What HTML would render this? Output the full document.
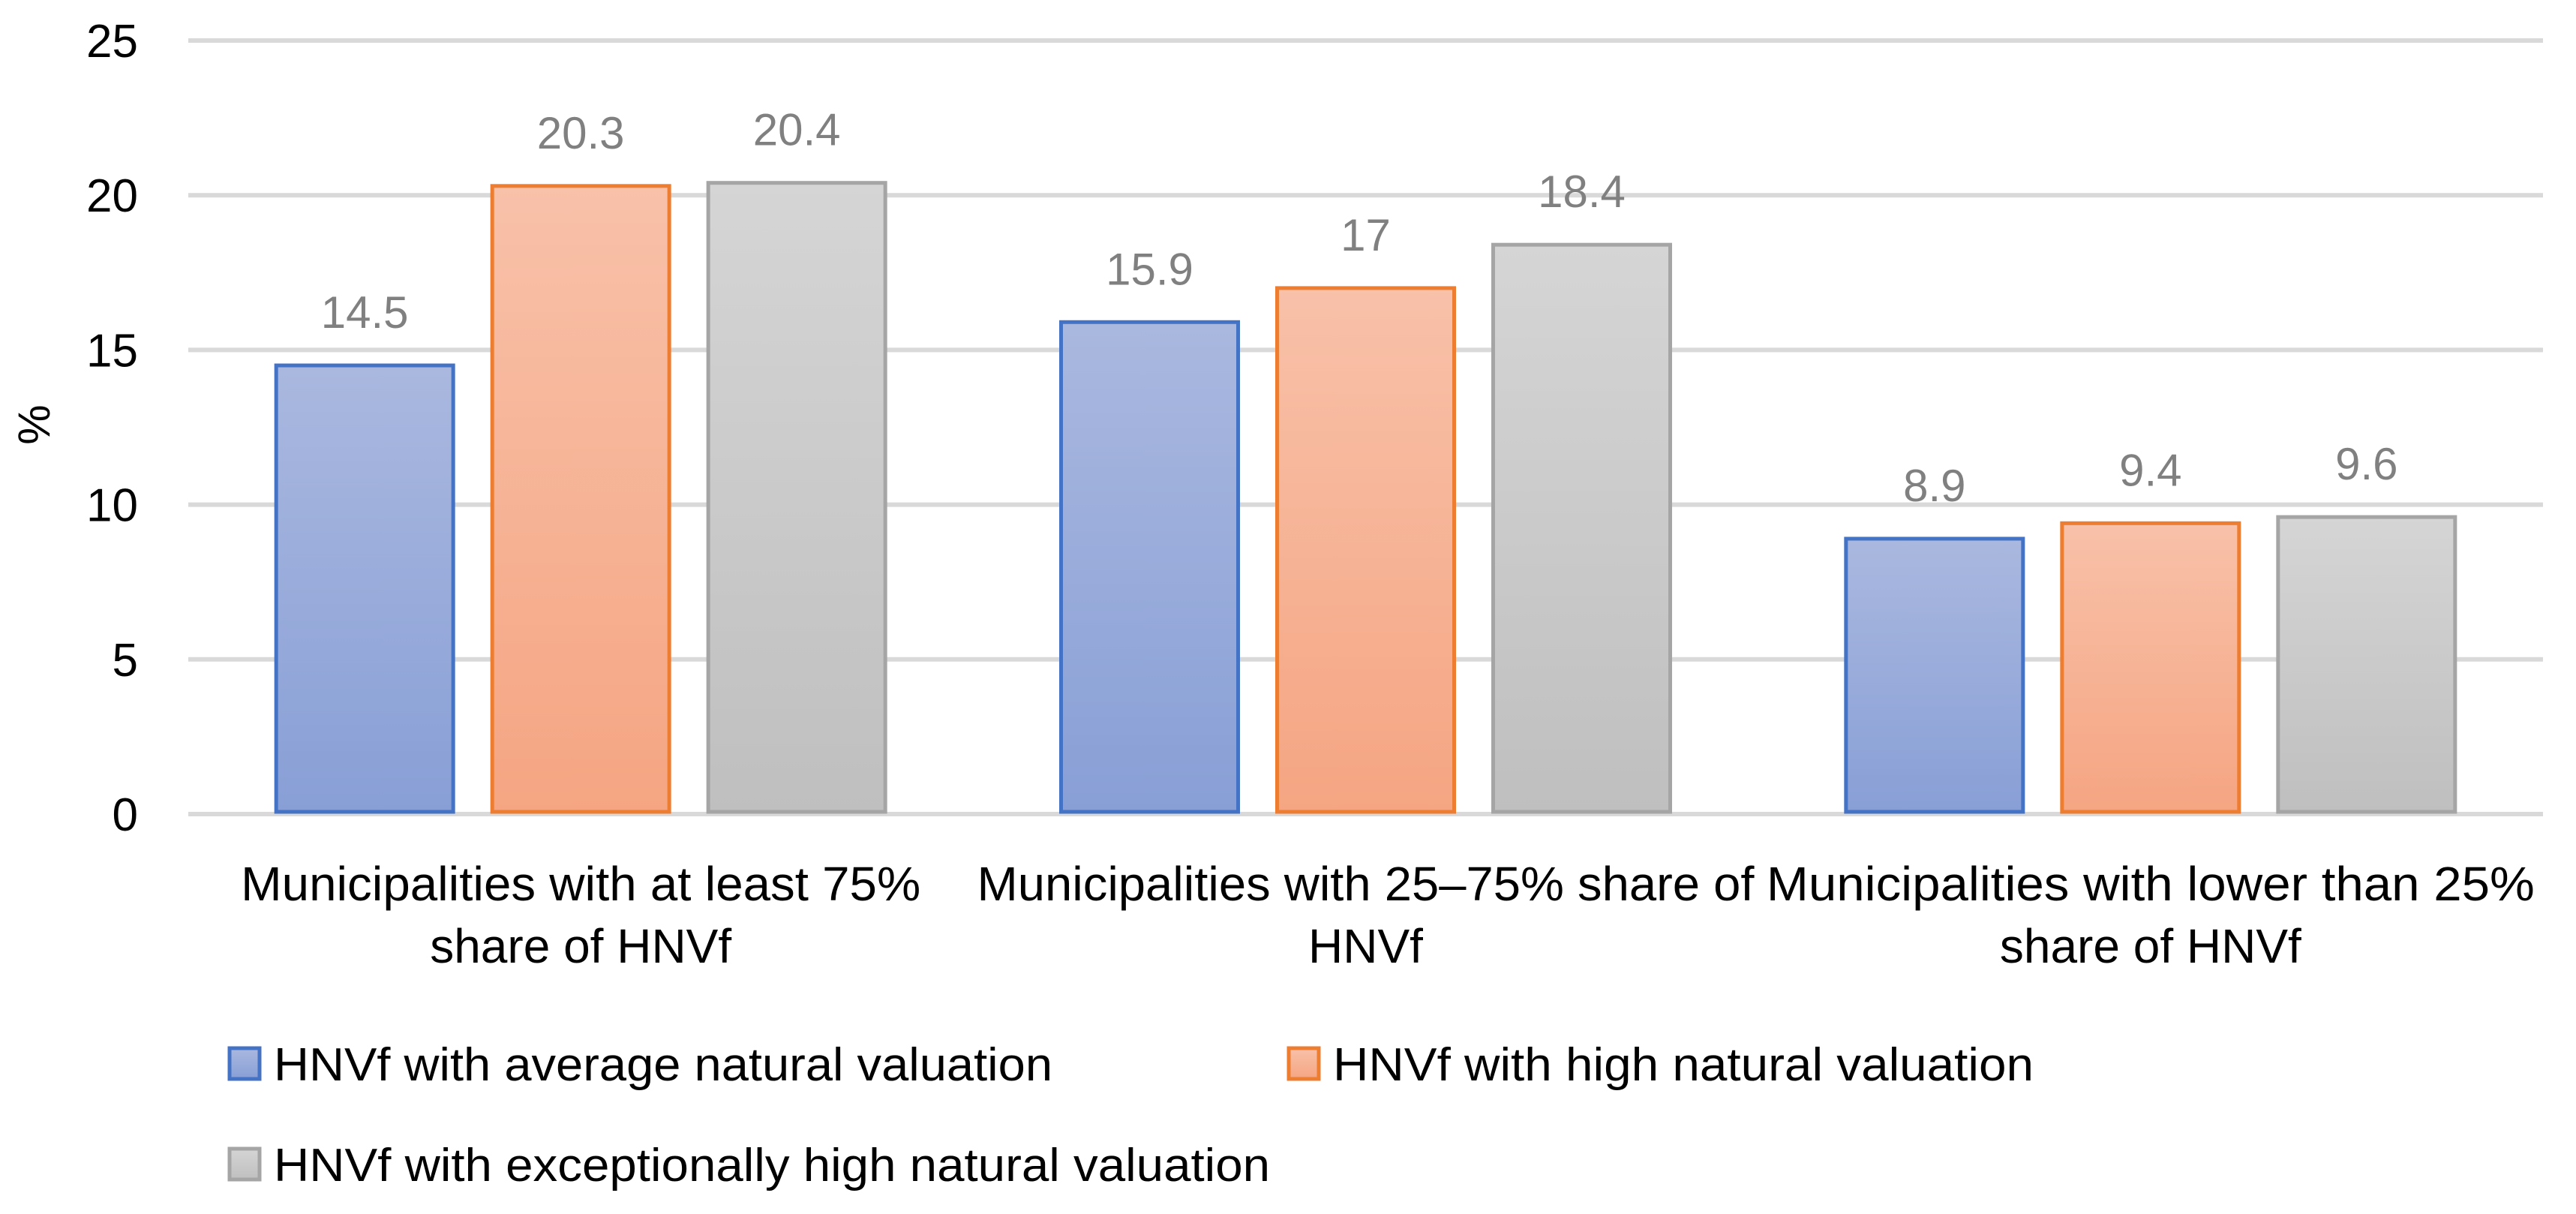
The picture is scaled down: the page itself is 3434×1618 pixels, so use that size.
<!DOCTYPE html>
<html><head><meta charset="utf-8"><style>
html,body{margin:0;padding:0;background:#fff;}
svg{display:block;font-family:"Liberation Sans",sans-serif;}
</style></head><body>
<svg id="chart" width="3434" height="1618" viewBox="0 0 3434 1618">
<defs>
<linearGradient id="gb" x1="0" y1="0" x2="0" y2="1"><stop offset="0" stop-color="#aab8df"/><stop offset="1" stop-color="#889fd6"/></linearGradient>
<linearGradient id="go" x1="0" y1="0" x2="0" y2="1"><stop offset="0" stop-color="#f8c1a9"/><stop offset="1" stop-color="#f5a582"/></linearGradient>
<linearGradient id="gg" x1="0" y1="0" x2="0" y2="1"><stop offset="0" stop-color="#d5d5d5"/><stop offset="1" stop-color="#bfbfbf"/></linearGradient>
</defs>
<g id="grid"></g><g id="bars"></g><g id="labels"></g>
<text x="50" y="566" font-size="60" text-anchor="middle" dominant-baseline="middle" transform="rotate(-90 50 566)">%</text>
<g>
<rect x="306" y="1397" width="40" height="41" fill="url(#gb)" stroke="#4472c4" stroke-width="5"/>
<text x="365" y="1440" font-size="62" textLength="1038" lengthAdjust="spacingAndGlyphs">HNVf with average natural valuation</text>
<rect x="1718" y="1397" width="40" height="41" fill="url(#go)" stroke="#ed7d31" stroke-width="5"/>
<text x="1777" y="1440" font-size="62" textLength="934" lengthAdjust="spacingAndGlyphs">HNVf with high natural valuation</text>
<rect x="306" y="1531" width="40" height="41" fill="url(#gg)" stroke="#a5a5a5" stroke-width="5"/>
<text x="365" y="1574" font-size="62" textLength="1328" lengthAdjust="spacingAndGlyphs">HNVf with exceptionally high natural valuation</text>
</g>
</svg>
<script>
const categoriesL1 = ["Municipalities with at least 75%", "Municipalities with 25\u201375% share of", "Municipalities with lower than 25%"];
const categoriesL2 = ["share of HNVf", "HNVf", "share of HNVf"];
const seriesAverage = [14.5, 15.9, 8.9];
const seriesHigh = [20.3, 17, 9.4];
const seriesExceptional = [20.4, 18.4, 9.6];
const yTicks = [0, 5, 10, 15, 20, 25];

const NS = "http://www.w3.org/2000/svg";
const plotL = 251, plotR = 3390, y0 = 1085, y25 = 54;
const yScale = v => y0 - (v / 25) * (y0 - y25);
const catW = (plotR - plotL) / 3;
const barW = 236, gap = 52;
const xBar = (ci, si) => plotL + ci * catW + (catW - (3 * barW + 2 * gap)) / 2 + si * (barW + gap);
function mk(tag, attrs, parent, txt) {
  const e = document.createElementNS(NS, tag);
  for (const k in attrs) e.setAttribute(k, attrs[k]);
  if (txt !== undefined) e.textContent = txt;
  document.getElementById(parent).appendChild(e);
  return e;
}
yTicks.forEach(t => {
  const g = mk("line", {x1: plotL, x2: plotR, y1: yScale(t), y2: yScale(t), stroke: "#d9d9d9", "stroke-width": 6}, "grid");
  
  
  const l = mk("text", {x: 184, y: yScale(t) + 22, "font-size": 62, "text-anchor": "end", fill: "#000"}, "labels", String(t));
  
  
});
const series = [
  {vals: seriesAverage, fill: "url(#gb)", stroke: "#4472c4", key: "average"},
  {vals: seriesHigh, fill: "url(#go)", stroke: "#ed7d31", key: "high"},
  {vals: seriesExceptional, fill: "url(#gg)", stroke: "#a5a5a5", key: "exceptional"}
];
series.forEach((s, si) => {
  s.vals.forEach((v, ci) => {
    const x = xBar(ci, si), y = yScale(v);
    const r = mk("rect", {x: x, y: y, width: barW, height: y0 - 3 - y, fill: s.fill, stroke: s.stroke, "stroke-width": 5}, "bars");
    
    
    const t = mk("text", {x: x + barW / 2, y: y - 50, "font-size": 60, "text-anchor": "middle", fill: "#808080"}, "labels", String(v));
    
    
  });
});
const l1w = [906, 1036, 1024];
categoriesL1.forEach((c, i) => {
  const cx = plotL + (i + 0.5) * catW;
  const a = mk("text", {x: cx, y: 1200, "font-size": 64, "text-anchor": "middle", textLength: l1w[i], lengthAdjust: "spacingAndGlyphs"}, "labels", c);
  
  
  const b = mk("text", {x: cx, y: 1283, "font-size": 64, "text-anchor": "middle"}, "labels", categoriesL2[i]);
  
  
});
</script>
</body></html>
